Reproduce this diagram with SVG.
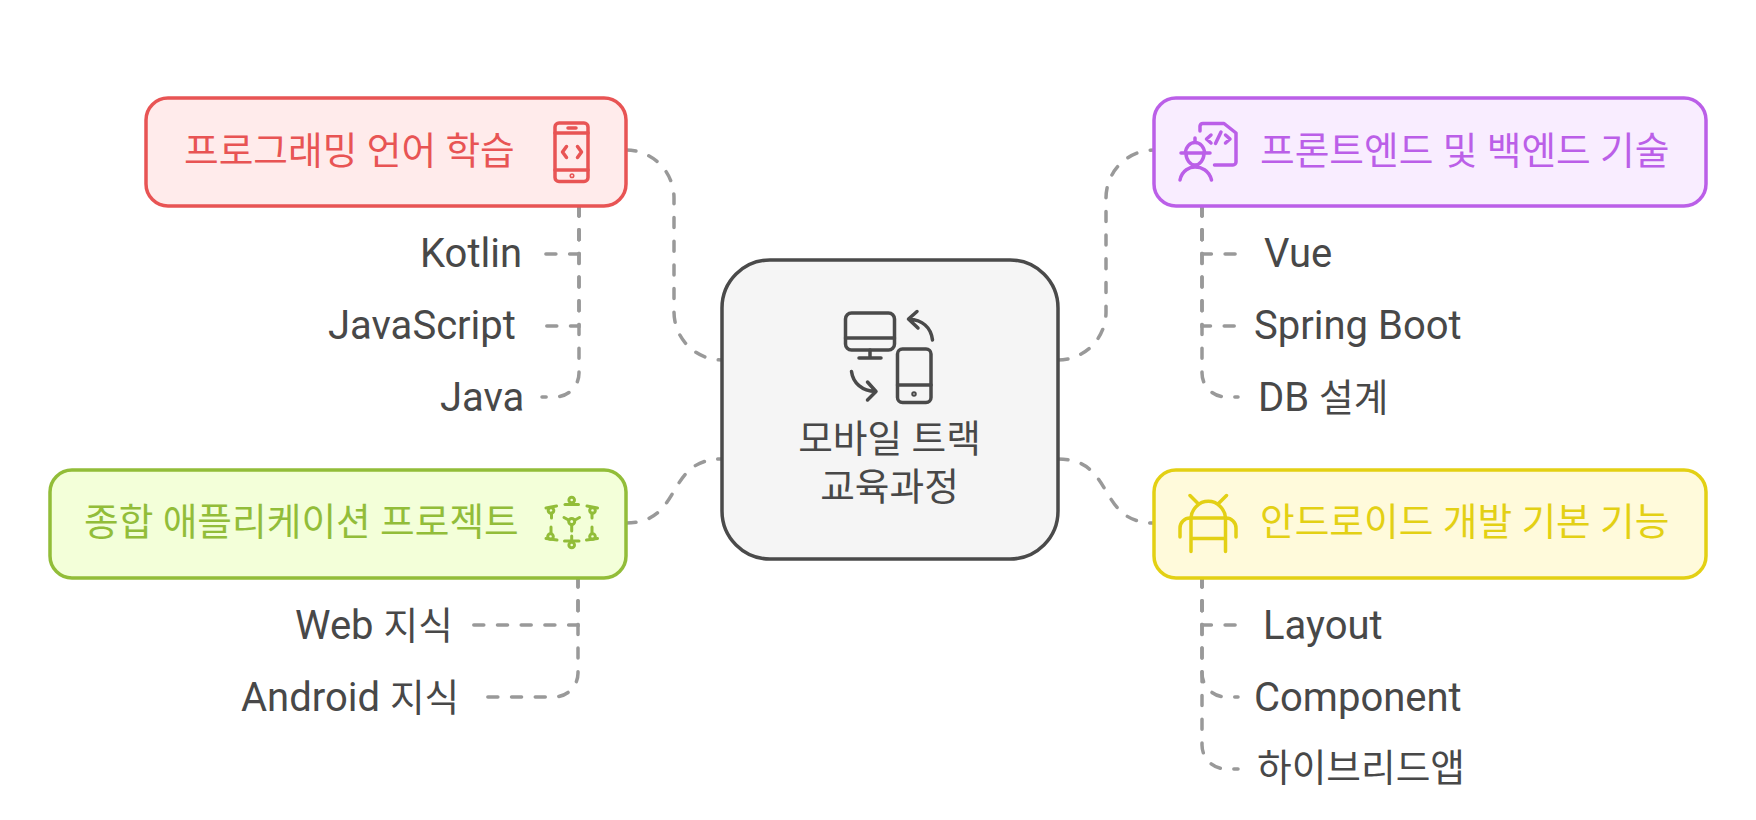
<svg xmlns="http://www.w3.org/2000/svg" width="1756" height="820" viewBox="0 0 1756 820">
<style>
text{font-family:"Roboto","Noto Sans CJK KR",sans-serif;font-size:40px;fill:#484848}
.k{font-size:37.7px}
.box{stroke-width:3.5}
.c{fill:none;stroke:#999;stroke-width:3.5;stroke-dasharray:10 13.7;stroke-linecap:round}
.i{fill:none;stroke-width:3.5;stroke-linecap:round;stroke-linejoin:round}
.red{stroke:#e85454}.pur{stroke:#bb5fe8}.grn{stroke:#92bd39}.yel{stroke:#e3d014}.gry{stroke:#4a4a4a}
</style>
<rect width="1756" height="820" fill="#fff"/>
<g id="connectors">
<path class="c" d="M626 150A48 48 0 0 1 674 198V312A48 48 0 0 0 722 360"/>
<path class="c" d="M1058 360A48 48 0 0 0 1106 312V198A48 48 0 0 1 1154 150"/>
<path class="c" d="M626 523C684 523 664 459 722 459"/>
<path class="c" d="M1058 459C1116 459 1096 523 1154 523"/>
<path class="c" d="M579 206V254H543"/>
<path class="c" d="M579 206V326H543"/>
<path class="c" d="M579 206V373A24 24 0 0 1 555 397H542"/>
<path class="c" d="M1202 206V254H1238"/>
<path class="c" d="M1202 206V326H1238"/>
<path class="c" d="M1202 206V373A24 24 0 0 0 1226 397H1238"/>
<path class="c" d="M1202 577V625H1238"/>
<path class="c" d="M1202 577V673A24 24 0 0 0 1226 697H1238"/>
<path class="c" d="M1202 577V745A24 24 0 0 0 1226 769H1238"/>
<path class="c" d="M578 577V673A24 24 0 0 1 554 697H481"/>
<path class="c" d="M578 577V625H467"/>
</g>
<g id="node-center">
<rect class="box" x="722" y="260" width="336" height="299" rx="48" fill="#f5f5f5" stroke="#4a4a4a"/>
<g class="i gry">
<rect x="845.5" y="313" width="49" height="37" rx="6"/><path d="M845.5 338H894.500M870 350V358M859 358H881"/>
<path d="M932.500 340C931 327 922 320 909 319M917 311.500L908.500 319L918 328"/>
<rect x="897.500" y="349" width="33.500" height="53.500" rx="5"/><path d="M897.500 385H931"/>
<circle cx="914" cy="394" r="1"/>
<path d="M851.500 371.500C853 383 862 391 875.500 391.500M867.500 382L876 391.500L867.500 400"/>
</g>
<text class="k" x="889.500" y="452" text-anchor="middle">모바일 트랙</text>
<text class="k" x="889.500" y="500" text-anchor="middle">교육과정</text>
</g>
<g id="node-red">
<rect class="box" x="146" y="98" width="480" height="108" rx="22" fill="#ffebeb" stroke="#e85454"/>
<text class="k" x="184" y="164" style="fill:#e85454">프로그래밍 언어 학습</text>
<g class="i red">
<rect x="555" y="123" width="33" height="58.500" rx="4"/><path d="M555 133H588M555 170H588M568 128H576M566.500 146.500L562.500 152L566.500 157.500M577.500 146.500L581.500 152L577.500 157.500"/><circle cx="572" cy="175.700" r="0.800"/>
</g>
</g>
<g id="node-purple">
<rect class="box" x="1154" y="98" width="552" height="108" rx="22" fill="#f9edff" stroke="#bb5fe8"/>
<text class="k" x="1260" y="164" style="fill:#bb5fe8">프론트엔드 및 백엔드 기술</text>
<g class="i pur">
<path d="M1200 131V126A3 3 0 0 1 1203 123.500H1224L1236 133V162A3 3 0 0 1 1233 165H1214.500"/>
<path d="M1211 135L1206.500 139L1211 143M1225.500 135L1230 139L1225.500 143M1221 132L1215.500 143.500"/>
<path d="M1181 153H1210M1185.500 153A9.500 10.500 0 0 1 1204.500 153M1195 138V142M1186 153A9 12 0 0 0 1204 153M1180 180C1182 170 1190 167 1195 167C1201 167 1209 170 1211.500 180"/>
</g>
</g>
<g id="node-green">
<rect class="box" x="50" y="470" width="576" height="108" rx="22" fill="#f3ffd9" stroke="#92bd39"/>
<text class="k" x="84" y="535" style="fill:#92bd39">종합 애플리케이션 프로젝트</text>
<g class="i grn" style="stroke-width:3">
<circle cx="571.700" cy="500" r="2.800"/><path d="M565 504.500L578.500 504.500"/>
<circle cx="551" cy="510.500" r="2.800"/><path d="M556.500 506L546 508M551.500 513V518"/>
<circle cx="592.500" cy="510.500" r="2.800"/><path d="M587 506L597.500 508M592 513V518"/>
<circle cx="571.700" cy="521.500" r="3"/><path d="M564 517.500L568.500 520M579.500 517.500L575 520M571.700 525V531"/>
<circle cx="550.500" cy="536.500" r="2.800"/><path d="M551 527V533M546 538.500L557 540"/>
<circle cx="592.500" cy="536.500" r="2.800"/><path d="M592 527V533M597.500 538.500L586.500 540"/>
<circle cx="571.700" cy="545" r="2.800"/><path d="M564.500 541L579 541M571.700 536V541"/>
</g>
</g>
<g id="node-yellow">
<rect class="box" x="1154" y="470" width="552" height="108" rx="22" fill="#fffadb" stroke="#e3d014"/>
<text class="k" x="1260" y="535" style="fill:#e3d014">안드로이드 개발 기본 기능</text>
<g class="i yel">
<path d="M1190 495.500L1198 503.500M1226.500 495.500L1218.500 503.500M1191 551.500V518H1225.500V551.500M1191 538.500H1225.500M1191 518A17.300 18 0 0 1 1225.500 518"/>
<path d="M1180 537V528A10 10 0 0 1 1190 518M1236 537V528A10 10 0 0 0 1226 518"/>
</g>
</g>
<g id="item-kotlin"><text x="420" y="267">Kotlin</text></g>
<g id="item-javascript"><text x="328" y="339">JavaScript</text></g>
<g id="item-java"><text x="440" y="411">Java</text></g>
<g id="item-vue"><text x="1264" y="267">Vue</text></g>
<g id="item-spring"><text x="1254" y="339">Spring Boot</text></g>
<g id="item-db"><text x="1258" y="411">DB <tspan class="k">설계</tspan></text></g>
<g id="item-layout"><text x="1263" y="639">Layout</text></g>
<g id="item-component"><text x="1254" y="711">Component</text></g>
<g id="item-hybrid"><text class="k" x="1257" y="781">하이브리드앱</text></g>
<g id="item-web"><text x="295" y="639">Web <tspan class="k">지식</tspan></text></g>
<g id="item-android"><text x="241" y="711">Android <tspan class="k">지식</tspan></text></g>
</svg>
